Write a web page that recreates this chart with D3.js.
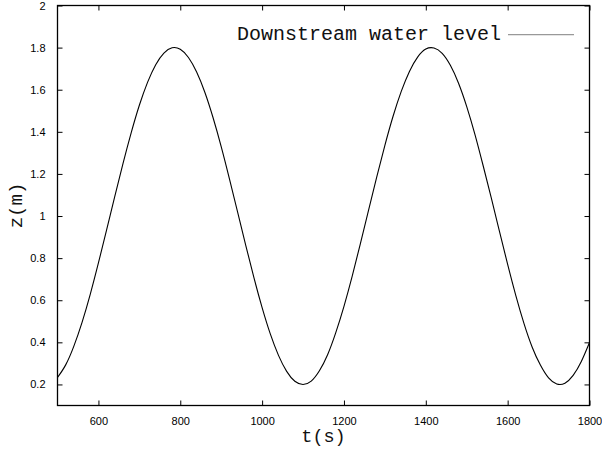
<!DOCTYPE html>
<html>
<head>
<meta charset="utf-8">
<script src="https://cdn.jsdelivr.net/npm/d3@7"></script>
<style>
  html, body { margin: 0; padding: 0; background: #fff; }
  svg { display: block; }
</style>
</head>
<body>
<svg id="chart" width="602" height="453"></svg>
<script>
// Time samples (s)
const times = [
  500, 520, 540, 560, 580, 600, 620, 640, 660, 680,
  700, 720, 740, 760, 780, 800, 820, 840, 860, 880,
  900, 920, 940, 960, 980, 1000, 1020, 1040, 1060, 1080,
  1100, 1120, 1140, 1160, 1180, 1200, 1220, 1240, 1260, 1280,
  1300, 1320, 1340, 1360, 1380, 1400, 1420, 1440, 1460, 1480,
  1500, 1520, 1540, 1560, 1580, 1600, 1620, 1640, 1660, 1680,
  1700, 1720, 1740, 1760, 1780, 1800
];
// Downstream water level z (m)
const waterLevel = [
  0.233, 0.293, 0.382, 0.495, 0.628, 0.777, 0.934, 1.093, 1.249, 1.395,
  1.526, 1.635, 1.719, 1.774, 1.799, 1.792, 1.753, 1.684, 1.588, 1.468,
  1.330, 1.178, 1.020, 0.861, 0.707, 0.565, 0.440, 0.338, 0.262, 0.215,
  0.200, 0.216, 0.265, 0.341, 0.446, 0.571, 0.713, 0.868, 1.027, 1.185,
  1.336, 1.474, 1.592, 1.687, 1.755, 1.793, 1.798, 1.773, 1.716, 1.631,
  1.520, 1.388, 1.240, 1.086, 0.927, 0.770, 0.622, 0.489, 0.377, 0.292,
  0.231, 0.202, 0.206, 0.243, 0.309, 0.399
];
const xTicks = [600, 800, 1000, 1200, 1400, 1600, 1800];
const yTicks = [0.2, 0.4, 0.6, 0.8, 1, 1.2, 1.4, 1.6, 1.8, 2];
const xDomain = [500, 1800];
const yDomain = [0.1, 2];
const seriesName = "Downstream water level";

const svg = d3.select("#chart");
const L = 57.5, R = 589.5, T = 5.5, B = 405.5;

const x = d3.scaleLinear().domain(xDomain).range([L, R]);
const y = d3.scaleLinear().domain(yDomain).range([B, T]);

const tickFont = "'Liberation Sans', Arial, sans-serif";
const monoFont = "'Liberation Mono', 'Courier New', monospace";
const tickLen = 5;

// Bottom axis with labels, mirrored ticks on top
const xAxis = d3.axisBottom(x).tickValues(xTicks).tickSize(-tickLen).tickPadding(12)
  .tickFormat(d3.format("d"));
const gx = svg.append("g").attr("transform", `translate(0,${B})`).call(xAxis);
const gxTop = svg.append("g").attr("transform", `translate(0,${T})`)
  .call(d3.axisTop(x).tickValues(xTicks).tickSize(-tickLen).tickFormat(""));

// Left axis with labels, mirrored ticks on right
const yAxis = d3.axisLeft(y).tickValues(yTicks).tickSize(-tickLen).tickPadding(12)
  .tickFormat(d => String(d));
const gy = svg.append("g").attr("transform", `translate(${L},0)`).call(yAxis);
const gyRight = svg.append("g").attr("transform", `translate(${R},0)`)
  .call(d3.axisRight(y).tickValues(yTicks).tickSize(-tickLen).tickFormat(""));

[gx, gxTop, gy, gyRight].forEach(g => {
  g.select(".domain").remove();
  g.selectAll(".tick line").attr("stroke", "#000").attr("stroke-width", 1);
  g.selectAll("text").attr("font-family", tickFont).attr("font-size", 11).attr("fill", "#000");
});

// Plot frame
svg.append("rect")
  .attr("x", L).attr("y", T).attr("width", R - L).attr("height", B - T)
  .attr("fill", "none").attr("stroke", "#000").attr("stroke-width", 1.3);

// Curve
const pts = times.map((t, i) => [t, waterLevel[i]]);
const line = d3.line().x(d => x(d[0])).y(d => y(d[1])).curve(d3.curveNatural);
svg.append("path")
  .datum(pts)
  .attr("d", line)
  .attr("fill", "none")
  .attr("stroke", "#000")
  .attr("stroke-width", 1.1);

// Legend
svg.append("text")
  .attr("x", 501).attr("y", 39.5)
  .attr("text-anchor", "end")
  .attr("font-family", monoFont).attr("font-size", 20)
  .attr("fill", "#111")
  .text(seriesName);
svg.append("line")
  .attr("x1", 508).attr("x2", 574).attr("y1", 34.7).attr("y2", 34.7)
  .attr("stroke", "#999").attr("stroke-width", 1.2);

// Axis titles
svg.append("text")
  .attr("x", (L + R) / 2).attr("y", 442)
  .attr("text-anchor", "middle")
  .attr("font-family", monoFont).attr("font-size", 18.5)
  .attr("fill", "#111")
  .text("t(s)");
svg.append("text")
  .attr("transform", `translate(22,${(T + B) / 2}) rotate(-90)`)
  .attr("text-anchor", "middle")
  .attr("font-family", monoFont).attr("font-size", 19)
  .attr("fill", "#111")
  .text("z(m)");
</script>
</body>
</html>
